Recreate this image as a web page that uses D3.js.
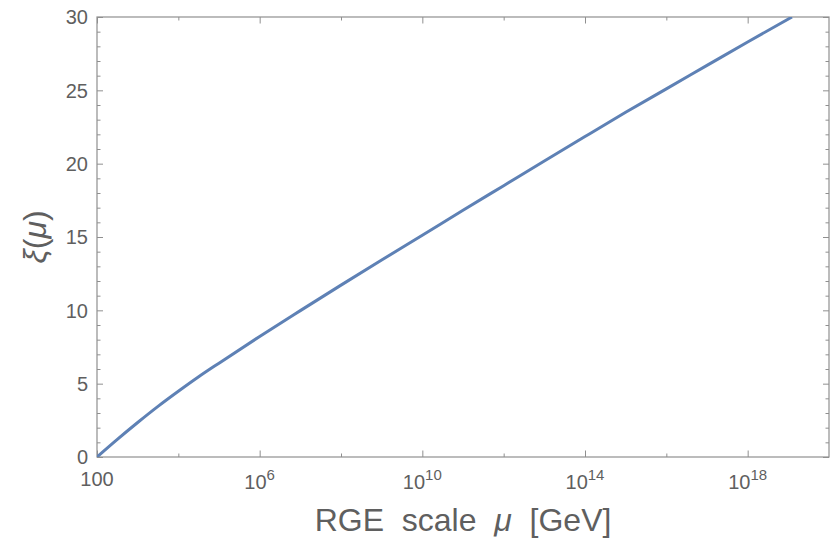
<!DOCTYPE html>
<html>
<head>
<meta charset="utf-8">
<script src="https://cdn.jsdelivr.net/npm/d3@7"></script>
<style>
  body { margin: 0; background: #fff; }
  svg { display: block; font-family: "Liberation Sans", Arial, sans-serif; }
</style>
</head>
<body>
<div id="chart"></div>
<script>
// curve: log10(mu/GeV) and xi(mu)
var logMu = [2, 2.5, 3, 3.5, 4, 4.5, 5, 6, 7, 8, 9, 10, 11, 12, 13, 14, 15, 16, 17, 18, 19.09];
var xiVals = [0, 1.2, 2.35, 3.45, 4.48, 5.47, 6.4, 8.22, 9.98, 11.72, 13.43, 15.12, 16.82, 18.5, 20.18, 21.85, 23.5, 25.1, 26.7, 28.3, 30];

// axes
var xMajorExp = [2, 6, 10, 14, 18];
var xMinorExp = [4, 8, 12, 16];
var yMajor = [0, 5, 10, 15, 20, 25, 30];
var yMinor = d3.range(0, 31).filter(function(v) { return v % 5 != 0; });

var W = 839, H = 543;
var pl = 97, pr = 829, pt = 17, pb = 457;
var frameCol = "#8f8f8f", textCol = "#5f5f5f", lineCol = "#5e81b5";

var x = d3.scaleLog().domain([1e2, 1e20]).range([pl, pr]);
var y = d3.scaleLinear().domain([0, 30]).range([pb, pt]);

var svg = d3.select("#chart").append("svg")
    .attr("width", W)
    .attr("height", H);

svg.append("defs").append("clipPath").attr("id", "clip")
  .append("rect")
    .attr("x", pl).attr("y", pt)
    .attr("width", pr - pl).attr("height", pb - pt);

// frame ticks (all four sides, pointing inward)
function tickAxis(axis, tr, vals, size) {
  var g = svg.append("g")
      .attr("transform", tr)
      .call(axis.tickValues(vals).tickSize(size).tickFormat(""));
  g.select(".domain").remove();
  g.selectAll("line").attr("stroke", frameCol).attr("stroke-width", 1);
  return g;
}
var xMaj = xMajorExp.map(function(e) { return Math.pow(10, e); });
var xMin = xMinorExp.map(function(e) { return Math.pow(10, e); });

tickAxis(d3.axisTop(x), "translate(0," + pb + ")", xMaj, 6.5);
tickAxis(d3.axisTop(x), "translate(0," + pb + ")", xMin, 3.5);
tickAxis(d3.axisBottom(x), "translate(0," + pt + ")", xMaj, 6.5);
tickAxis(d3.axisBottom(x), "translate(0," + pt + ")", xMin, 3.5);
tickAxis(d3.axisRight(y), "translate(" + pl + ",0)", yMajor, 6);
tickAxis(d3.axisRight(y), "translate(" + pl + ",0)", yMinor, 3.5);
tickAxis(d3.axisLeft(y), "translate(" + pr + ",0)", yMajor, 6);
tickAxis(d3.axisLeft(y), "translate(" + pr + ",0)", yMinor, 3.5);

// frame
svg.append("rect")
    .attr("x", pl).attr("y", pt)
    .attr("width", pr - pl).attr("height", pb - pt)
    .attr("fill", "none")
    .attr("stroke", frameCol)
    .attr("stroke-width", 1.2);

// y tick labels
svg.append("g").selectAll("text")
    .data(yMajor)
  .enter().append("text")
    .attr("x", pl - 9)
    .attr("y", function(d) { return y(d); })
    .attr("dy", "0.36em")
    .attr("text-anchor", "end")
    .attr("font-size", 20)
    .attr("fill", textCol)
    .text(function(d) { return d; });

// x tick labels
var xl = svg.append("g").selectAll("text")
    .data(xMajorExp)
  .enter().append("text")
    .attr("x", function(d) { return x(Math.pow(10, d)); })
    .attr("y", function(d) { return d == 2 ? 486 : 489; })
    .attr("text-anchor", "middle")
    .attr("font-size", 20)
    .attr("fill", textCol);
xl.each(function(d) {
  var t = d3.select(this);
  if (d == 2) { t.text("100"); return; }
  t.append("tspan").text("10");
  t.append("tspan").attr("dy", -9.5).attr("font-size", 15).text(d);
});

// curve
var line = d3.line()
    .x(function(d) { return x(Math.pow(10, d[0])); })
    .y(function(d) { return y(d[1]); })
    .curve(d3.curveMonotoneX);

svg.append("path")
    .datum(logMu.map(function(v, i) { return [v, xiVals[i]]; }))
    .attr("clip-path", "url(#clip)")
    .attr("fill", "none")
    .attr("stroke", lineCol)
    .attr("stroke-width", 3)
    .attr("d", line);

// axis titles
var xt = svg.append("text")
    .attr("x", (pl + pr) / 2)
    .attr("y", 531)
    .attr("text-anchor", "middle")
    .attr("font-size", 32)
    .attr("fill", textCol)
    .attr("xml:space", "preserve");
xt.append("tspan").text("RGE  scale  ");
xt.append("tspan").attr("font-style", "italic").text("μ");
xt.append("tspan").text("  [GeV]");

var yt = svg.append("text")
    .attr("transform", "translate(46," + ((pt + pb) / 2) + ") rotate(-90)")
    .attr("text-anchor", "middle")
    .attr("font-size", 32)
    .attr("fill", textCol);
yt.append("tspan").attr("font-style", "italic").text("ξ");
yt.append("tspan").text("(");
yt.append("tspan").attr("font-style", "italic").text("μ");
yt.append("tspan").text(")");
</script>
</body>
</html>
